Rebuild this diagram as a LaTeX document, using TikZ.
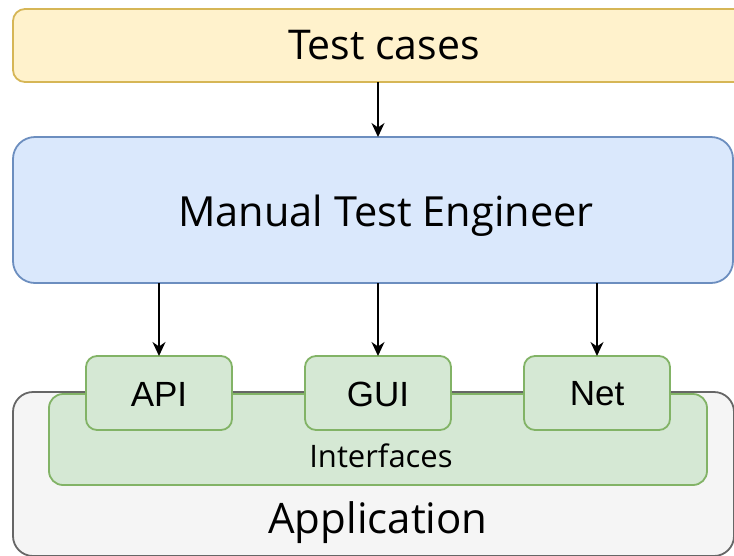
\documentclass[tikz,border=0pt]{standalone}
\usepackage{fontspec}
\setmainfont{Open Sans}
\newfontfamily\arialfont{Liberation Sans}
\usetikzlibrary{arrows.meta}
\definecolor{ylwfill}{HTML}{FFF2CC}\definecolor{ylwline}{HTML}{D6B656}
\definecolor{bluefill}{HTML}{DAE8FC}\definecolor{blueline}{HTML}{6C8EBF}
\definecolor{grnfill}{HTML}{D5E8D4}\definecolor{grnline}{HTML}{82B366}
\definecolor{gryfill}{HTML}{F5F5F5}\definecolor{gryline}{HTML}{666666}
\tikzset{
  box/.style={draw, line width=1.8pt, inner sep=0pt},
  flow/.style={line width=1.8pt, -{Stealth[length=14pt,width=13pt,inset=4.5pt]}},
}
\begin{document}
\begin{tikzpicture}[x=1pt,y=-1pt]
\useasboundingbox (0,0) rectangle (734,555);
\clip (0,0) rectangle (734,555);
% layers
\draw[box, draw=ylwline, fill=ylwfill, rounded corners=12pt] (13,9) rectangle (760,82);
\node (tc) at (384,45) {\fontsize{41}{44}\selectfont Test cases};
\coordinate (tcb) at (378,82);

\draw[box, draw=blueline, fill=bluefill, rounded corners=22pt] (13,137) rectangle (733,283);
\node (mte) at (386,216) {\fontsize{41.5}{44}\selectfont Manual Test Engineer};
\coordinate (mtet) at (378,137);
\coordinate (mte1) at (159,283);
\coordinate (mte2) at (378,283);
\coordinate (mte3) at (597,283);

\draw[box, draw=gryline, fill=gryfill, rounded corners=20pt] (13,392) rectangle (734,556);
\node (app) at (378,523) {\fontsize{42}{45}\selectfont Application};

\draw[box, draw=grnline, fill=grnfill, rounded corners=14pt] (49,394) rectangle (707,485);
\node (ifc) at (381,456) {\fontsize{31}{34}\selectfont Interfaces};

\foreach \nm/\cx/\txt in {api/159/API, gui/378/GUI, net/597/Net}{
  \draw[box, draw=grnline, fill=grnfill, rounded corners=11pt] (\cx-73,356) rectangle (\cx+73,430);
  \node (\nm) at (\cx,394) {\arialfont\fontsize{35}{38}\selectfont \txt};
  \coordinate (\nm-top) at (\cx,356);
}

\draw[flow] (tcb) -- (mtet);
\draw[flow] (mte1) -- (api-top);
\draw[flow] (mte2) -- (gui-top);
\draw[flow] (mte3) -- (net-top);
\end{tikzpicture}
\end{document}
